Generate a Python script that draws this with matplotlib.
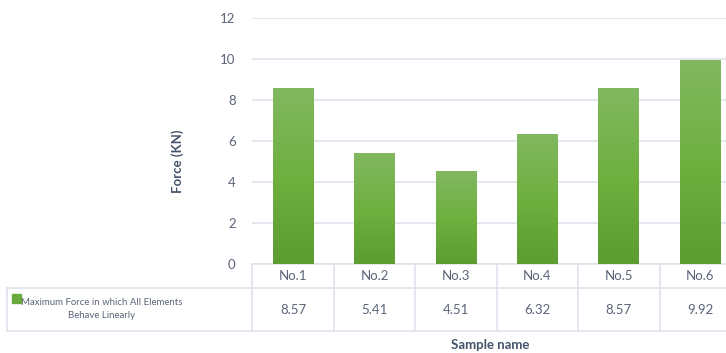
import numpy as np
import matplotlib
matplotlib.use("Agg")
import matplotlib.pyplot as plt
from matplotlib.colors import LinearSegmentedColormap

# datos
muestras = ["No.1", "No.2", "No.3", "No.4", "No.5", "No.6"]
fuerza = [8.57, 5.41, 4.51, 6.32, 8.57, 9.92]
serie = "Maximum Force in which All Elements\nBehave Linearly"
yticks = [0, 2, 4, 6, 8, 10, 12]

plt.rcParams['font.family'] = ['Lato', 'DejaVu Sans']
c_tick = '#5b6478'
c_title = '#44546a'
c_line = '#dfe3ea'

W, H = 726, 353
fig = plt.figure(figsize=(W / 100, H / 100), dpi=100)

# area del grafico (en pixeles de la imagen)
x0, x1 = 252.25, 741.0
y_top, y_bot = 18.3, 264.3
ax = fig.add_axes([x0 / W, 1 - y_bot / H, (x1 - x0) / W, (y_bot - y_top) / H])

# barras con degradado
verdes = LinearSegmentedColormap.from_list("verdes", ["#5c9c31", "#6fb040", "#82b860"])
grad = np.linspace(0, 1, 256).reshape(-1, 1)
ancho = 0.5
for i, v in enumerate(fuerza):
    ax.imshow(grad, extent=(i - ancho / 2, i + ancho / 2, 0, v), origin='lower',
              cmap=verdes, aspect='auto', zorder=3)

ax.set_xlim(-0.5, len(muestras) - 0.5)
ax.set_ylim(0, 12)
ax.set_yticks(yticks)
ax.set_xticks([])
ax.grid(axis='y', color=c_line, linewidth=1.2, zorder=0)
for s in ax.spines.values():
    s.set_visible(False)
ax.tick_params(axis='y', length=0, pad=12, labelsize=9.5, labelcolor=c_tick)

# tabla de datos, dibujada debajo del eje
px = 1.0 / (y_bot - y_top)  # un pixel en fraccion de eje
tr = ax.get_xaxis_transform()
y_hdr = -(288 - y_bot) * px
y_row = -(331 - y_bot) * px
x_left = (7 - x0) / ((x1 - x0) / len(muestras)) - 0.5
kw = dict(color=c_line, linewidth=1.2, transform=tr, clip_on=False)
ax.plot([-0.5, 5.5], [0, 0], **kw)
ax.plot([x_left, 5.5], [y_hdr, y_hdr], **kw)
ax.plot([x_left, 5.5], [y_row, y_row], **kw)
ax.plot([x_left, x_left], [y_hdr, y_row], **kw)
for i in range(len(muestras)):
    ax.plot([i - 0.5, i - 0.5], [0, y_row], **kw)

for i, (m, v) in enumerate(zip(muestras, fuerza)):
    ax.text(i, y_hdr / 2, m, transform=tr, ha='center', va='center',
            fontsize=9.5, color=c_tick, clip_on=False)
    ax.text(i, (y_hdr + y_row) / 2, f"{v:.2f}", transform=tr, ha='center', va='center',
            fontsize=9.5, color=c_tick, clip_on=False)

# leyenda dentro de la tabla
fig.text(102 / W, 1 - 309 / H, serie, ha='center', va='center', fontsize=6.9,
         color=c_tick, linespacing=1.65)
fig.patches.append(plt.Rectangle((12 / W, 1 - 303 / H), 9 / W, 9 / H,
                                 transform=fig.transFigure, color='#6aab3e', figure=fig))

# titulos
fig.text(490 / W, 1 - 345 / H, "Sample name", ha='center', va='center',
         fontsize=9.5, fontweight='bold', color=c_title)
fig.text(178 / W, 1 - 161 / H, "Force (KN)", ha='center', va='center', rotation=90,
         fontsize=9.5, fontweight='bold', color=c_title)

fig.savefig("out.png", dpi=100)
